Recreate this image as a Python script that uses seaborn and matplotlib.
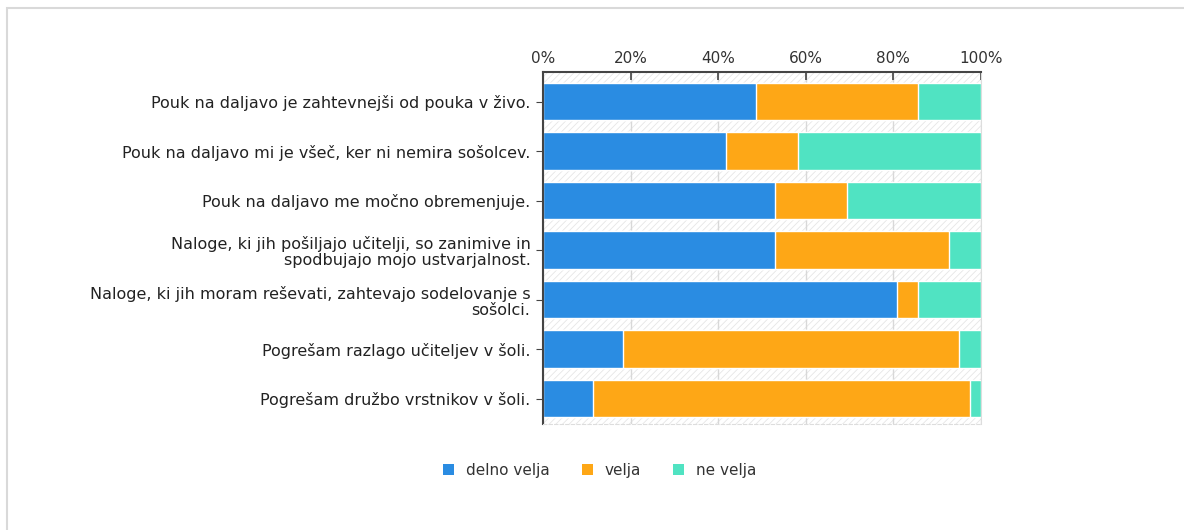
import seaborn as sns
import pandas as pd
import numpy as np
import matplotlib.pyplot as plt
from matplotlib.patches import Rectangle, Patch

# data (percent of answers)
questions = [
    "Pouk na daljavo je zahtevnejši od pouka v živo.",
    "Pouk na daljavo mi je všeč, ker ni nemira sošolcev.",
    "Pouk na daljavo me močno obremenjuje.",
    "Naloge, ki jih pošiljajo učitelji, so zanimive in\nspodbujajo mojo ustvarjalnost.",
    "Naloge, ki jih moram reševati, zahtevajo sodelovanje s\nsošolci.",
    "Pogrešam razlago učiteljev v šoli.",
    "Pogrešam družbo vrstnikov v šoli.",
]
delno_velja = [48.6, 41.7, 53.0, 53.0, 80.8, 18.3, 11.4]
velja = [37.1, 16.6, 16.5, 39.6, 4.8, 76.7, 86.1]
ne_velja = [14.3, 41.7, 30.5, 7.4, 14.4, 5.0, 2.5]

series = ["delno velja", "velja", "ne velja"]
colors = ["#2a8ce2", "#fea716", "#50e3c2"]

df = pd.DataFrame({"q": questions, "delno velja": delno_velja,
                   "velja": velja, "ne velja": ne_velja})
cum = df[series].cumsum(axis=1)

sns.set_style("white")
plt.rcParams['font.family'] = ['DejaVu Sans']
plt.rcParams['hatch.linewidth'] = 0.6

fig = plt.figure(figsize=(11.84, 5.30), dpi=100)
ax = fig.add_axes([543/1184, 1-424/530, 438/1184, 352/530])

# outer light frame
fig.patches.append(Rectangle((7/1184, -0.1), 1.2, 1-8/530+0.1, transform=fig.transFigure,
                             fill=False, edgecolor='#d9d9d9', linewidth=1.5, zorder=0))

# hatched background
ax.add_patch(Rectangle((0, 0), 1, 1, transform=ax.transAxes, facecolor='white',
                       hatch='/////', edgecolor='#e6e6e6', linewidth=0, zorder=0))

# stacked bars: draw totals from the back
for s, c in zip(series[::-1], colors[::-1]):
    sns.barplot(x=cum[s], y=df["q"], color=c, orient='h', width=0.75,
                saturation=1, ax=ax, zorder=2)

ax.set_xlim(0, 100)
ax.set_ylim(6.515, -0.596)
ax.set_xticks(np.arange(0, 101, 20))
ax.set_xticklabels([f"{v}%" for v in range(0, 101, 20)])
ax.xaxis.tick_top()
ax.grid(axis='x', color='#d8d8d8', linewidth=1, zorder=1)
ax.set_axisbelow(True)
ax.set_xlabel("")
ax.set_ylabel("")
ax.tick_params(axis='x', which='both', top=True, direction='in', length=6,
               width=1.2, color='#444444', labelsize=11, labelcolor='#333333', pad=4)
ax.tick_params(axis='y', left=True, length=5, color='#444444', labelsize=11.5,
               labelcolor='#222222', pad=4)
for lab in ax.get_yticklabels():
    lab.set_multialignment('right')
    lab.set_linespacing(1.1)

for side in ['top', 'left']:
    ax.spines[side].set_color('#444444')
    ax.spines[side].set_linewidth(1.5)
ax.spines['right'].set_color('#dddddd')
ax.spines['bottom'].set_color('#dddddd')
ax.spines['bottom'].set_linestyle((0, (3, 2)))

handles = [Patch(facecolor=c, edgecolor='none') for c in colors]
fig.legend(handles, series, loc='center', bbox_to_anchor=(600/1184, 1-470/530),
           ncol=3, frameon=False, fontsize=11, handlelength=0.7, handleheight=0.7,
           columnspacing=2.1, handletextpad=0.8, labelcolor='#333333')

fig.savefig('out.png', dpi=100)
